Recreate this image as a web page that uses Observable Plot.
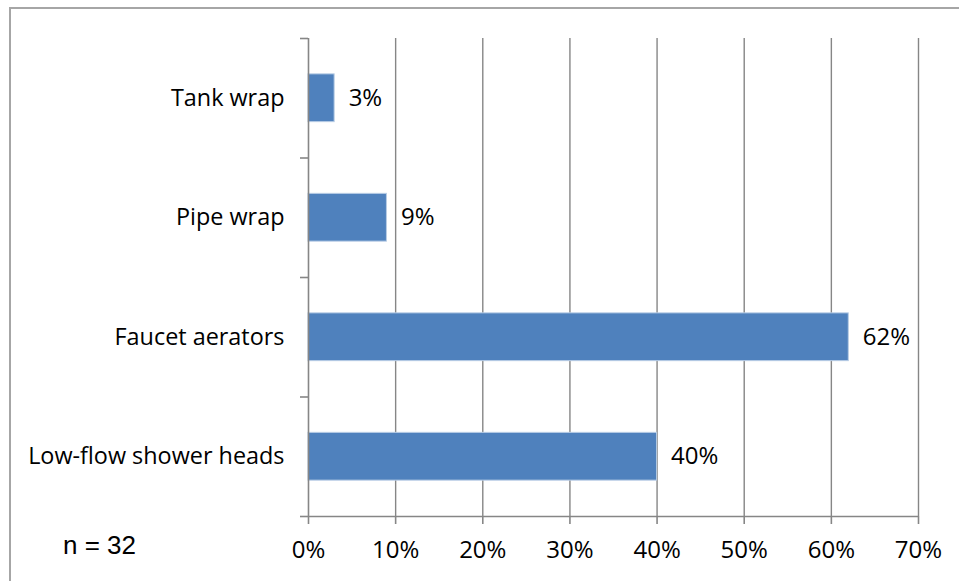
<!DOCTYPE html>
<html><head><meta charset="utf-8">
<script src="https://cdn.jsdelivr.net/npm/d3@7"></script>
<script src="https://cdn.jsdelivr.net/npm/@observablehq/plot@0.6"></script>
<style>
body{margin:0;background:#fff;}
#wrap{position:relative;width:959px;height:581px;overflow:hidden;}
#frame{position:absolute;left:9px;top:7px;width:1000px;height:1000px;border-left:2px solid #a6a6a6;border-top:2px solid #a6a6a6;box-sizing:border-box;}
#chart{position:absolute;left:0;top:0;}
#note{position:absolute;left:63px;top:530px;font:26px "Liberation Sans",Arial,sans-serif;color:#000;white-space:nowrap;}
</style></head><body>
<div id="wrap"><div id="frame"></div><div id="chart"></div><div id="note">n = 32</div></div>
<script>
const categories = ["Tank wrap", "Pipe wrap", "Faucet aerators", "Low-flow shower heads"];
const values = [0.03, 0.09, 0.62, 0.40];
const valueLabels = ["3%", "9%", "62%", "40%"];
const xTicks = [0, 0.1, 0.2, 0.3, 0.4, 0.5, 0.6, 0.7];
const xTickLabels = ["0%", "10%", "20%", "30%", "40%", "50%", "60%", "70%"];
const sampleNote = "n = 32";

const rows = categories.map((c, i) => ({category: c, value: values[i], label: valueLabels[i], pos: i}));
const axisGray = "#868686";

const chart = Plot.plot({
  width: 959,
  height: 581,
  marginLeft: 308,
  marginRight: 41,
  marginTop: 38,
  marginBottom: 65,
  style: {fontFamily: "'Open Sans', 'Noto Sans', sans-serif", fontSize: "24px", color: "#000", background: "transparent", overflow: "visible"},
  x: {domain: [0, 0.7]},
  y: {domain: [0, 4], reverse: true},
  marks: [
    Plot.gridX(xTicks.slice(1), {stroke: axisGray, strokeOpacity: 1, strokeWidth: 1.4}),
    Plot.rectX(rows, {
      x1: 0, x2: "value",
      y1: d => d.pos + 0.3, y2: d => d.pos + 0.7,
      fill: "#4F81BD", stroke: "#b9cde5", strokeWidth: 1
    }),
    Plot.ruleX([0], {stroke: axisGray, strokeWidth: 1.6}),
    Plot.ruleY([4], {stroke: axisGray, strokeWidth: 1.6}),
    Plot.axisY({ticks: [0, 1, 2, 3, 4], tickFormat: () => "", tickSize: 8, stroke: axisGray, strokeWidth: 1.6, label: null}),
    Plot.axisX({ticks: xTicks, tickFormat: (d) => xTickLabels[xTicks.indexOf(d)], tickSize: 8, tickPadding: 16, stroke: axisGray, strokeWidth: 1.6, label: null, fill: "#000"}),
    Plot.text(rows, {x: 0, y: d => d.pos + 0.5, text: "category", textAnchor: "end", dx: -24, fill: "#000", fontSize: 23.4}),
    Plot.text(rows, {x: "value", y: d => d.pos + 0.5, text: "label", textAnchor: "start", dx: 14, fill: "#000"})
  ]
});
document.getElementById("chart").appendChild(chart);
document.getElementById("note").textContent = sampleNote;
</script>
</body></html>
